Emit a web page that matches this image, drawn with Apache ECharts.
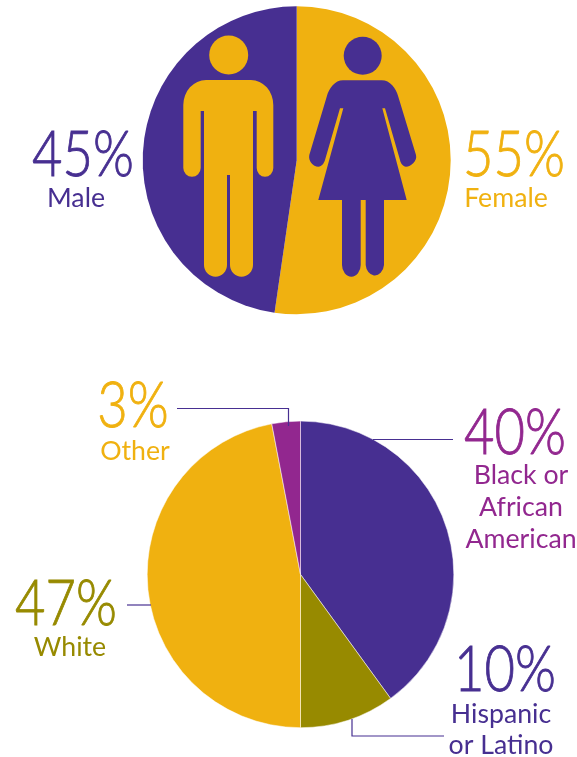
<!DOCTYPE html>
<html>
<head>
<meta charset="utf-8">
<style>
  html, body { margin: 0; padding: 0; background: #fff; }
  #chart { width: 577px; height: 757px; }
</style>
<script src="https://cdn.jsdelivr.net/npm/echarts@6/dist/echarts.min.js"></script>
</head>
<body>
<div id="chart"></div>
<script>
var PURPLE = '#472f91', YELLOW = '#f0b110', OLIVE = '#978a00', MAGENTA = '#92278f';

// top pie: the slices as drawn in the picture are not quite the printed 55/45
var genderNames = ['Female', 'Male'];
var genderSlices = [52.3, 47.7];
var genderPrinted = ['55%', '45%'];

// bottom pie
var raceNames = ['Black or African American', 'Hispanic or Latino', 'White', 'Other'];
var raceSlices = [40, 10, 47, 3];
var racePrinted = ['40%', '10%', '47%', '3%'];

var manPath = 'M206 80 L251 80 A22.3 25 0 0 1 273.3 105 L273.3 168 A8.3 8.7 0 0 1 256.7 168 L256.7 111 L253 111 L253 265 A11.5 11.7 0 0 1 230 265 L230 175 L227 175 L227 265 A11.5 11.7 0 0 1 204 265 L204 111 L200.7 111 L200.7 168 A8.7 8.7 0 0 1 183.3 168 L183.3 105 A22.7 25 0 0 1 206 80 Z';
var womanPath = 'M343 80.3 L381.7 80.3 C390 80.3 396 88 398.3 96.7 L416 155 C417.5 161 411 166.7 406 166.7 C403 166.7 400.5 163 400 160 L385 108.3 L382.3 108.3 L406.7 200 L384 200 L384 265 A9.2 11.7 0 0 1 365.7 265 L365.7 200 L360.7 200 L360.7 265 A9.35 11.7 0 0 1 342 265 L342 200 L318.3 200 L343.3 108.3 L340 108.3 L325 160 C324 163 322 166.7 318.3 166.7 C313 166.7 308 161 309.3 155 L326.7 96.7 C329 88 335 80.3 343 80.3 Z';

var myChart = echarts.init(document.getElementById('chart'));

function toPie(names, values, colors) {
    return names.map(function (n, i) {
        return { name: n, value: values[i], itemStyle: { color: colors[i] } };
    });
}

function bigText(str, x, y, color) {
    return {
        type: 'text', x: x, y: y, scaleX: 0.82, z: 10,
        style: { text: str, fontFamily: 'Lato', fontWeight: 300, fontSize: 64, fill: color, stroke: color, lineWidth: 0.9, align: 'center', verticalAlign: 'middle' }
    };
}
function smallText(str, x, y, color) {
    return {
        type: 'text', x: x, y: y, z: 10,
        style: { text: str, fontFamily: 'Lato', fontSize: 26.7, fill: color, align: 'center', verticalAlign: 'middle' }
    };
}
function leader(points) {
    return {
        type: 'polyline', z: 10,
        shape: { points: points },
        style: { stroke: PURPLE, lineWidth: 1.2, fill: null }
    };
}

var option = {
    animation: false,
    backgroundColor: '#fff',
    series: [
        {
            type: 'pie', silent: true, center: [296.7, 160.3], radius: [0, 154], startAngle: 90,
            label: { show: false }, labelLine: { show: false },
            data: toPie(genderNames, genderSlices, [YELLOW, PURPLE])
        },
        {
            type: 'pie', silent: true, center: [300.5, 574.4], radius: [0, 153.3], startAngle: 90,
            label: { show: false }, labelLine: { show: false },
            itemStyle: { borderColor: '#fff', borderWidth: 0.5 },
            data: toPie(raceNames, raceSlices, [PURPLE, OLIVE, YELLOW, MAGENTA])
        },
        {
            // the two people icons
            type: 'custom', coordinateSystem: 'none', silent: true, z: 5,
            data: [0],
            renderItem: function () {
                return {
                    type: 'group',
                    children: [
                        { type: 'circle', shape: { cx: 228.7, cy: 55, r: 19.5 }, style: { fill: YELLOW } },
                        { type: 'path', shape: { pathData: manPath }, style: { fill: YELLOW } },
                        { type: 'circle', shape: { cx: 362.7, cy: 55.7, r: 19 }, style: { fill: PURPLE } },
                        { type: 'path', shape: { pathData: womanPath }, style: { fill: PURPLE } }
                    ]
                };
            }
        }
    ],
    graphic: [
        bigText(genderPrinted[1], 83, 155, PURPLE),
        smallText(genderNames[1], 76, 198.5, PURPLE),
        bigText(genderPrinted[0], 514, 155, YELLOW),
        smallText(genderNames[0], 506, 198.5, YELLOW),

        bigText(racePrinted[3], 133, 406, YELLOW),
        smallText(raceNames[3], 135, 451.5, YELLOW),
        bigText(racePrinted[2], 66, 604, OLIVE),
        smallText(raceNames[2], 70, 647.5, OLIVE),
        bigText(racePrinted[0], 515, 433, MAGENTA),
        smallText('Black or', 521, 475.5, MAGENTA),
        smallText('African', 521, 507.5, MAGENTA),
        smallText('American', 521, 539.5, MAGENTA),
        bigText(racePrinted[1], 505, 670, PURPLE),
        smallText('Hispanic', 501, 714.5, PURPLE),
        smallText('or Latino', 501, 745.5, PURPLE),

        leader([[177, 408.5], [288.5, 408.5], [288.5, 426]]),
        leader([[127, 605], [151, 605]]),
        leader([[373, 439.5], [453, 439.5]]),
        leader([[352, 719], [352, 736], [444, 736]])
    ]
};

myChart.setOption(option);
</script>
</body>
</html>
